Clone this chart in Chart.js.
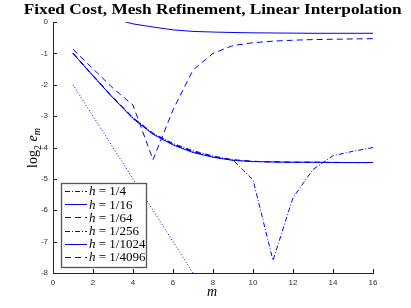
<!DOCTYPE html>
<html><head><meta charset="utf-8">
<script src="https://cdn.jsdelivr.net/npm/chart.js@4/dist/chart.umd.min.js"></script>
<style>html,body{margin:0;padding:0;background:#fff}#wrap{width:411px;height:308px;position:relative}</style>
</head><body><div id="wrap"><canvas id="c"></canvas></div>
<script>
// ---- data ----
const mValues = [1,2,3,4,5,6,7,8,9,10,11,12,13,14,15,16];
const labels = ['h = 1/4','h = 1/16','h = 1/64','h = 1/256','h = 1/1024','h = 1/4096'];
const err_h4    = [-1.00,-1.71,-2.41,-3.06,-3.56,-3.90,-4.14,-4.30,-4.40,-4.44,-4.46,-4.47,-4.47,-4.47,-4.48,-4.48];
const err_h16   = [-1.00,-1.72,-2.42,-3.08,-3.58,-3.92,-4.16,-4.31,-4.41,-4.45,-4.46,-4.47,-4.47,-4.48,-4.48,-4.48];
const err_h64   = [-0.99,-1.70,-2.40,-3.05,-3.55,-3.89,-4.13,-4.29,-4.39,-4.44,-4.46,-4.47,-4.47,-4.48,-4.48,-4.48];
const err_h256  = [-1.00,-1.72,-2.42,-3.05,-3.55,-3.87,-4.10,-4.27,-4.40,-5.03,-7.60,-5.60,-4.70,-4.26,-4.12,-4.00];
const err_h1024 = [0.90,0.45,0.11,-0.06,-0.16,-0.25,-0.30,-0.32,-0.335,-0.345,-0.35,-0.355,-0.36,-0.36,-0.36,-0.36];
const err_h4096 = [-0.87,-1.49,-2.11,-2.65,-4.39,-2.80,-1.53,-1.00,-0.75,-0.66,-0.61,-0.58,-0.56,-0.55,-0.54,-0.53];
const refSlope  = [-2,-3,-4,-5,-6,-7,-8,-9,null,null,null,null,null,null,null,null];
const xTicks = [0,2,4,6,8,10,12,14,16];
const yTicks = [0,-1,-2,-3,-4,-5,-6,-7,-8];

const BLUE = 'rgb(0,0,255)';
const DASHDOT = [5,2,1,2], SOLID = [], DASHED = [6,4], DOTTED = [1,2];
function pts(arr){ return mValues.map((m,i)=>({x:m,y:arr[i]})); }
function ds(label, arr, dash, legend){
  return {label, data:pts(arr), borderColor:BLUE, borderWidth:1, borderDash:dash,
          pointRadius:0, fill:false, tension:0, spanGaps:false, showInLegend:legend};
}
const datasets = [
  ds(labels[0], err_h4, DASHDOT, true),
  ds(labels[1], err_h16, SOLID, true),
  ds(labels[2], err_h64, DASHED, true),
  ds(labels[3], err_h256, DASHDOT, true),
  ds(labels[4], err_h1024, SOLID, true),
  ds(labels[5], err_h4096, DASHED, true),
  ds('ref', refSlope, DOTTED, false)
];

const SERIF = '"Liberation Serif", "DejaVu Serif", serif';
const SANS = '"Liberation Sans", Arial, sans-serif';
const TITLE = 'Fixed Cost, Mesh Refinement, Linear Interpolation';

const decor = {
  id:'decor',
  afterDraw(chart){
    const ctx = chart.ctx, ca = chart.chartArea;
    const xs = chart.scales.x, ys = chart.scales.y;
    ctx.save();
    // inward ticks
    ctx.strokeStyle = '#222'; ctx.lineWidth = 1; ctx.setLineDash([]);
    ctx.beginPath();
    xTicks.forEach(v=>{ const px = Math.round(xs.getPixelForValue(v))+0.5; ctx.moveTo(px, ca.bottom); ctx.lineTo(px, ca.bottom-4); });
    yTicks.forEach(v=>{ const py = Math.round(ys.getPixelForValue(v))+0.5; ctx.moveTo(ca.left, py); ctx.lineTo(ca.left+4, py); });
    ctx.stroke();
    // title, stretched to the reference's width
    ctx.fillStyle = '#000';
    ctx.font = 'bold 14px ' + SERIF;
    ctx.textAlign = 'center'; ctx.textBaseline = 'alphabetic';
    const tw0 = ctx.measureText(TITLE).width;
    ctx.save(); ctx.translate(212.7, 14); ctx.scale(378/tw0, 1);
    ctx.fillText(TITLE, 0, 0); ctx.restore();
    // x label
    ctx.font = 'italic 14px ' + SERIF;
    ctx.fillText('m', 212, 296);
    // y label
    ctx.save();
    ctx.translate(37, 148); ctx.rotate(-Math.PI/2);
    const big = '14px ' + SERIF, small = '10px ' + SERIF, bigI = 'italic 14px ' + SERIF, smallI = 'italic 10px ' + SERIF;
    const parts = [[big,'log',0],[small,'2',4],[big,' ',0],[bigI,'e',0],[smallI,'m',3]];
    let tw = 0; parts.forEach(p=>{ ctx.font=p[0]; tw += ctx.measureText(p[1]).width; });
    let x0 = -tw/2; ctx.textAlign = 'left';
    parts.forEach(p=>{ ctx.font=p[0]; ctx.fillText(p[1], x0, p[2]); x0 += ctx.measureText(p[1]).width; });
    ctx.restore();
    // legend
    const lx = 61, ly = 183, lw = 85, lh = 84;
    ctx.fillStyle = '#fff'; ctx.fillRect(lx, ly, lw, lh);
    ctx.strokeStyle = '#555'; ctx.lineWidth = 1.3; ctx.strokeRect(lx+0.5, ly+0.5, lw, lh);
    const items = chart.data.datasets.filter(d=>d.showInLegend);
    items.forEach((d,i)=>{
      const y = ly + 8 + i*13.2;
      ctx.strokeStyle = d.borderColor; ctx.lineWidth = 1; ctx.setLineDash(d.borderDash);
      ctx.beginPath(); ctx.moveTo(65, Math.round(y)+0.5); ctx.lineTo(87, Math.round(y)+0.5); ctx.stroke();
      ctx.setLineDash([]);
      ctx.fillStyle = '#000'; ctx.textBaseline = 'middle'; ctx.textAlign='left';
      const hh = d.label.slice(0,1), rest = d.label.slice(1);
      ctx.font = 'italic 13px ' + SERIF; ctx.fillText(hh, 89, y+1);
      const w = ctx.measureText(hh).width;
      ctx.font = '13px ' + SERIF; ctx.fillText(rest, 89+w, y+1);
    });
    ctx.restore();
  }
};

new Chart(document.getElementById('c'), {
  type:'line',
  data:{ datasets },
  options:{
    responsive:true, maintainAspectRatio:false, animation:false,
    layout:{ padding:{ top:22, right:38, left:0, bottom:0 } },
    plugins:{ legend:{display:false}, title:{display:false}, tooltip:{enabled:false} },
    scales:{
      x:{ type:'linear', min:0, max:16,
          afterBuildTicks(s){ s.ticks = xTicks.map(v=>({value:v})); },
          afterFit(s){ s.height = 35; },
          grid:{ display:true, drawOnChartArea:false, drawTicks:false },
          border:{ display:true, color:'#222', width:1 },
          ticks:{ padding:5, color:'#333', font:{ family:SANS, size:8 }, maxRotation:0 } },
      y:{ type:'linear', min:-8, max:0,
          afterBuildTicks(s){ s.ticks = yTicks.map(v=>({value:v})); },
          afterFit(s){ s.width = 53; },
          grid:{ display:true, drawOnChartArea:false, drawTicks:false },
          border:{ display:true, color:'#222', width:1 },
          ticks:{ padding:5, color:'#333', font:{ family:SANS, size:8 } } }
    }
  },
  plugins:[decor]
});
</script></body></html>
